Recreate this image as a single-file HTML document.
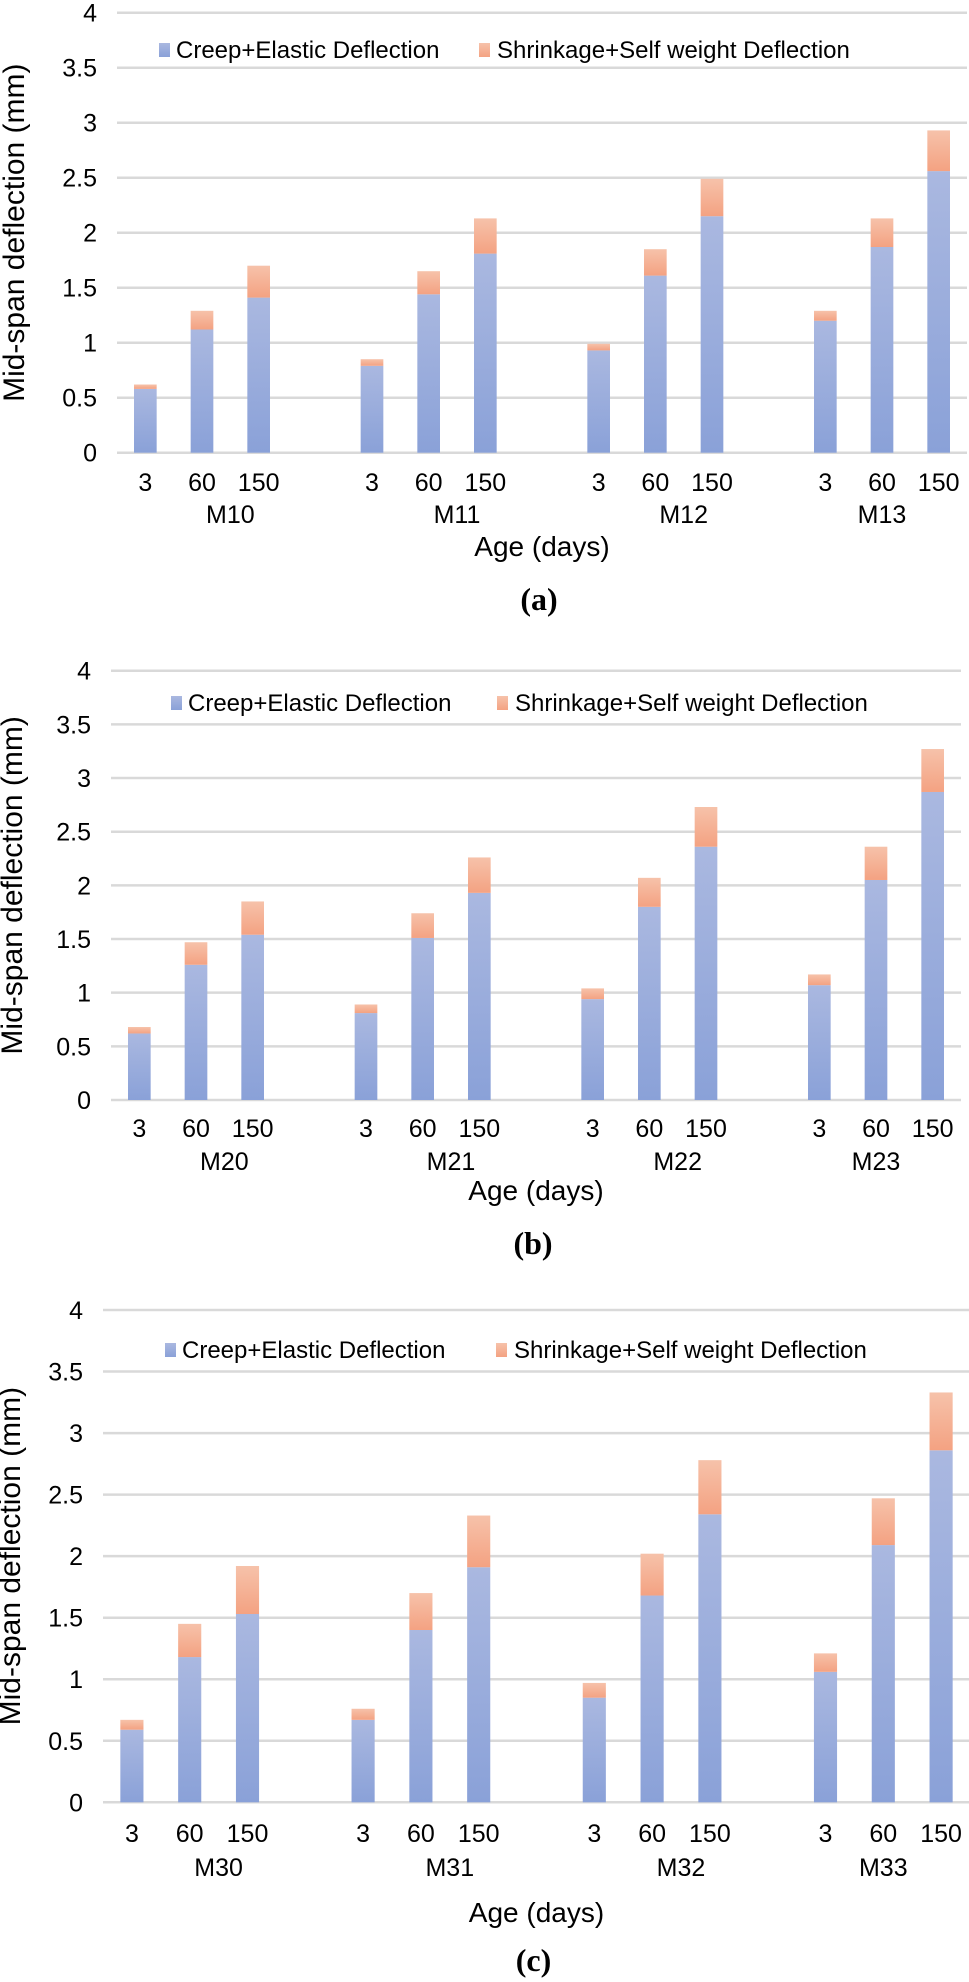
<!DOCTYPE html>
<html><head><meta charset="utf-8">
<style>
html,body{margin:0;padding:0;background:#fff;}
svg{display:block;}
text{font-family:"Liberation Sans",Arial,sans-serif;fill:#000;}
</style></head>
<body>
<svg id="root" width="969" height="1982" viewBox="0 0 969 1982" xmlns="http://www.w3.org/2000/svg">
<defs>
<linearGradient id="gBlue" x1="0" y1="0" x2="0" y2="1"><stop offset="0" stop-color="#aab8e0"/><stop offset="1" stop-color="#8aa1d8"/></linearGradient>
<linearGradient id="gOrange" x1="0" y1="0" x2="0" y2="1"><stop offset="0" stop-color="#f6c2aa"/><stop offset="1" stop-color="#f4a282"/></linearGradient>
</defs>
</svg>
<script>
const ages = ["3","60","150"];
const yTicks = ["0","0.5","1","1.5","2","2.5","3","3.5","4"];
const groupsA = ["M10","M11","M12","M13"];
const groupsB = ["M20","M21","M22","M23"];
const groupsC = ["M30","M31","M32","M33"];
const creepA = [0.58,1.12,1.41, 0.79,1.44,1.81, 0.93,1.61,2.15, 1.20,1.87,2.56];
const totalA = [0.62,1.29,1.70, 0.85,1.65,2.13, 0.99,1.85,2.49, 1.29,2.13,2.93];
const creepB = [0.62,1.26,1.54, 0.81,1.51,1.93, 0.94,1.80,2.36, 1.07,2.05,2.87];
const totalB = [0.68,1.47,1.85, 0.89,1.74,2.26, 1.04,2.07,2.73, 1.17,2.36,3.27];
const creepC = [0.59,1.18,1.53, 0.67,1.40,1.91, 0.85,1.68,2.34, 1.06,2.09,2.86];
const totalC = [0.67,1.45,1.92, 0.76,1.70,2.33, 0.97,2.02,2.78, 1.21,2.47,3.33];

const NS="http://www.w3.org/2000/svg";
const root=document.getElementById('root');
function mk(tag,attrs,parent,txt){const e=document.createElementNS(NS,tag);for(const k in attrs)e.setAttribute(k,attrs[k]);if(txt!==undefined)e.textContent=txt;(parent||root).appendChild(e);return e;}

function drawChart(id,groups,creep,total,L){
  const g=mk('g',{});
  
  
  const yScale=v=>L.y0-(v/4)*(L.y0-L.y4);
  const slot=(L.right-L.left)/15;
  // gridlines + y ticks
  yTicks.forEach(t=>{
    const y=yScale(parseFloat(t));
    const ln=mk('line',{x1:L.left,x2:L.right,y1:y,y2:y,stroke:'#d9d9d9','stroke-width':2.5},g);
    
    
    const tx=mk('text',{x:L.left-20,y:y+9,'text-anchor':'end','font-size':25},g,t);
    
    
  });
  // bars
  for(let i=0;i<creep.length;i++){
    const gi=Math.floor(i/3), k=i%3;
    const s=gi*4+k;
    const cx=L.left+(s+0.5)*slot;
    const bw=slot*0.4;
    const yc=yScale(creep[i]), yt=yScale(total[i]);
    const b=mk('rect',{x:cx-bw/2,y:yc,width:bw,height:L.y0-yc,fill:'url(#gBlue)'},g);
    
    
    const o=mk('rect',{x:cx-bw/2,y:yt,width:bw,height:yc-yt,fill:'url(#gOrange)'},g);
    
    
    const tl=mk('text',{x:cx,y:L.tickY+9,'text-anchor':'middle','font-size':25},g,ages[k]);
    
    
  }
  groups.forEach((m,gi)=>{
    const s0=gi*4, s1=Math.min(gi*4+3,14);
    const cx=L.left+((s0+s1)/2+0.5)*slot;
    const t=mk('text',{x:cx,y:L.catY+9,'text-anchor':'middle','font-size':25},g,m);
    
    
  });
  const ax=mk('text',{x:(L.left+L.right)/2,y:L.ageY+10,'text-anchor':'middle','font-size':28},g,'Age (days)');
  
  
  const yc=(L.y0+L.y4)/2;
  const yt=mk('text',{x:L.titleX,y:yc,'text-anchor':'middle','font-size':30,transform:'rotate(-90 '+L.titleX+' '+yc+')'},g,'Mid-span deflection (mm)');
  
  
  // legend
  const lg=mk('g',{},g);
  
  
  const s1=mk('rect',{x:L.lx1,y:L.ly-7,width:11,height:14,fill:'url(#gBlue)'},lg);
  
  
  const t1=mk('text',{x:L.lx1+17,y:L.ly+8,'font-size':24},lg,'Creep+Elastic Deflection');
  
  
  const s2=mk('rect',{x:L.lx2,y:L.ly-7,width:11,height:14,fill:'url(#gOrange)'},lg);
  
  
  const t2=mk('text',{x:L.lx2+18,y:L.ly+8,'font-size':24},lg,'Shrinkage+Self weight Deflection');
  
  
  const cap=mk('text',{x:(L.left+L.right)/2-3,y:L.capY+11,'text-anchor':'middle','font-size':32,'font-weight':'bold',style:'font-family:"Liberation Serif",serif'},g,'('+id+')');
  
  
}

drawChart('a',groupsA,creepA,totalA,{left:117,right:967,y0:452.7,y4:12.7,tickY:482,catY:514,ageY:546,capY:599,titleX:24,lx1:159,lx2:479,ly:50});
drawChart('b',groupsB,creepB,totalB,{left:111,right:961,y0:1100,y4:670.7,tickY:1128,catY:1161,ageY:1190,capY:1243,titleX:22,lx1:171,lx2:497,ly:703});
drawChart('c',groupsC,creepC,totalC,{left:103,right:970,y0:1802.3,y4:1310,tickY:1833,catY:1867,ageY:1912,capY:1960,titleX:20,lx1:165,lx2:496,ly:1350});
</script>
</body></html>
